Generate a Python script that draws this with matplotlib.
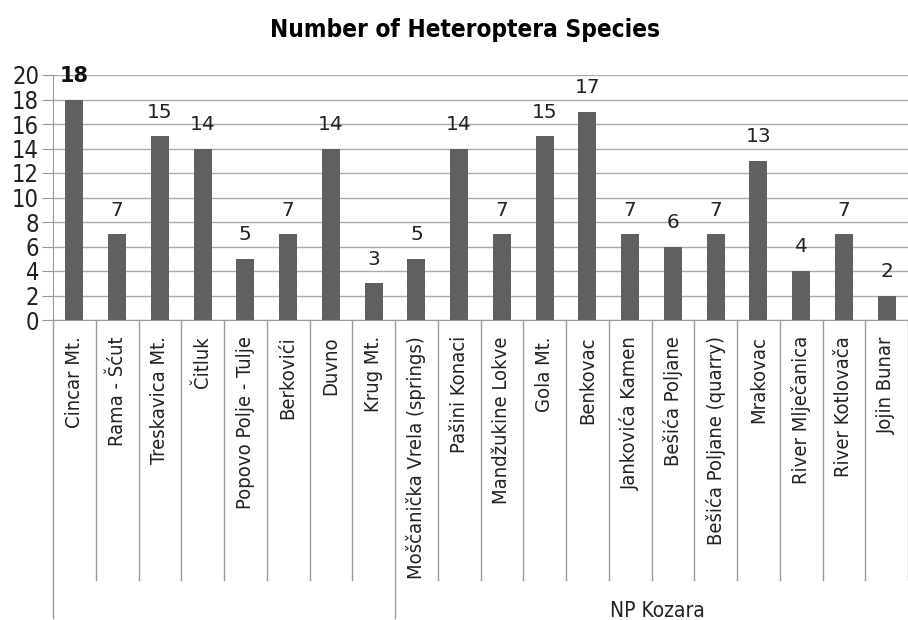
import matplotlib
matplotlib.use("Agg")
import matplotlib.pyplot as plt
from matplotlib.transforms import blended_transform_factory

categories = ["Cincar Mt.", "Rama - Šćut", "Treskavica Mt.", "Čitluk",
              "Popovo Polje - Tulje", "Berkovići", "Duvno", "Krug Mt.",
              "Moščanička Vrela (springs)", "Pašini Konaci", "Mandžukine Lokve",
              "Gola Mt.", "Benkovac", "Jankovića Kamen", "Bešića Poljane",
              "Bešića Poljane (quarry)", "Mrakovac", "River Mlječanica",
              "River Kotlovača", "Jojin Bunar"]
values = [18, 7, 15, 14, 5, 7, 14, 3, 5, 14, 7, 15, 17, 7, 6, 7, 13, 4, 7, 2]
group_label = "NP Kozara"
group_start = 8
y_ticks = list(range(0, 21, 2))
title = "Number of Heteroptera Species"

plt.rcParams['font.family'] = ['DejaVu Sans']

W, H = 908, 620
fig = plt.figure(figsize=(W/100, H/100), dpi=100)
L, R, T, B = 53, 908, 75, 320
ax = fig.add_axes([L/W, 1-B/H, (R-L)/W, (B-T)/H])
n = len(categories)
x = list(range(n))
ax.bar(x, values, width=0.42, color="#606060", zorder=3)
ax.set_xlim(-0.5, n-0.5)
ax.set_ylim(0, 20)
ax.set_yticks(y_ticks)
ax.set_yticklabels([str(t) for t in y_ticks], fontsize=17, color="#222222",
                   fontstretch='condensed')
ax.tick_params(axis='y', length=8, color="#999999", pad=2)
ax.set_xticks([])
ax.grid(axis='y', color="#aaaaaa", linewidth=1, zorder=0)
for s in ["top", "right"]:
    ax.spines[s].set_visible(False)
ax.spines["left"].set_color("#999999")
ax.spines["bottom"].set_color("#999999")

for i, v in enumerate(values):
    if i == 0:
        ax.text(i, v + 1.1, str(v), ha='center', va='bottom', fontsize=15,
                fontweight='bold', color="#111111")
    else:
        ax.text(i, v + 1.2, str(v), ha='center', va='bottom', fontsize=14.5,
                color="#222222")

tr = blended_transform_factory(ax.transData, fig.transFigure)
for b in range(n + 1):
    xb = b - 0.5
    ybot = 2/H if b in (0, group_start) else (H-580)/H
    ax.plot([xb, xb], [1-B/H, ybot], transform=tr, color="#999999",
            linewidth=1, clip_on=False)
for i, c in enumerate(categories):
    ax.text(i, 1-336/H, c, transform=tr, rotation=90, ha='center', va='top',
            fontsize=14.5, color="#222222", fontstretch='condensed')
ax.text((group_start - 0.5 + n - 0.5)/2 + 0.15, 1-611/H, group_label, transform=tr,
        ha='center', va='center', fontsize=15, color="#222222",
        fontstretch='condensed')

fig.text(465/W, 1-30/H, title, ha='center', va='center', fontsize=17.5,
         fontweight='bold', fontstretch='condensed')
fig.savefig("out.png", dpi=100)
